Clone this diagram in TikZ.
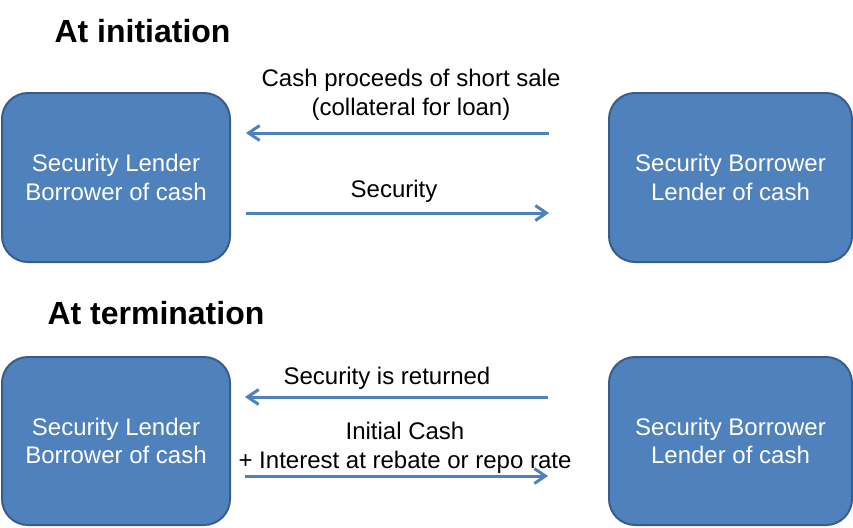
\documentclass[tikz,border=0pt]{standalone}
\usepackage{fontspec}
\setmainfont{Liberation Sans}
\usetikzlibrary{arrows.meta}
\definecolor{partyfill}{HTML}{4F81BD}
\definecolor{partyline}{HTML}{385D8A}
\definecolor{flowline}{HTML}{4F81BD}
\begin{document}
\begin{tikzpicture}[x=1pt,y=-1pt,
    party/.style={draw=partyline,line width=2pt,fill=partyfill,rounded corners=26pt,
      text=white,align=center,font=\fontsize{24}{28.5}\selectfont},
    flow/.style={draw=flowline,line width=3pt,-{Straight Barb[length=11pt,width=15pt]}},
    lbl/.style={align=center,font=\fontsize{24}{29}\selectfont},
    heading/.style={anchor=west,font=\fontsize{32}{36}\selectfont\bfseries}]
		\useasboundingbox (0,0) rectangle (853,527);
		\node[heading] (init) at (51,31) {At initiation};
		\node[heading] (term) at (44,313) {At termination};
		\node[party,minimum width=228pt,minimum height=169pt] (SL1) at (116,177.5) {Security Lender\\Borrower of cash};
		\node[party,minimum width=243pt,minimum height=169pt] (SB1) at (730.5,177.5) {Security Borrower\\Lender of cash};
		\node[party,minimum width=228pt,minimum height=168pt] (SL2) at (116,441) {Security Lender\\Borrower of cash};
		\node[party,minimum width=243pt,minimum height=168pt] (SB2) at (730.5,441) {Security Borrower\\Lender of cash};
		\coordinate (A) at (549,133);
		\coordinate (B) at (246,133);
		\coordinate (C) at (246,213);
		\coordinate (D) at (549,213);
		\coordinate (E) at (548,397);
		\coordinate (F) at (245,397);
		\coordinate (G) at (245,476);
		\coordinate (H) at (548,476);
		\draw[flow] (A) to (B);
		\draw[flow] (C) to (D);
		\draw[flow] (E) to (F);
		\draw[flow] (G) to (H);
		\node[lbl] (cash) at (411,95) {Cash proceeds of short sale\\(collateral for loan)};
		\node[lbl] (sec) at (394,191) {Security};
		\node[lbl] (ret) at (387,378) {Security is returned};
		\node[lbl] (back) at (405,448) {Initial Cash\\+ Interest at rebate or repo rate};
	\end{tikzpicture}
\end{document}
